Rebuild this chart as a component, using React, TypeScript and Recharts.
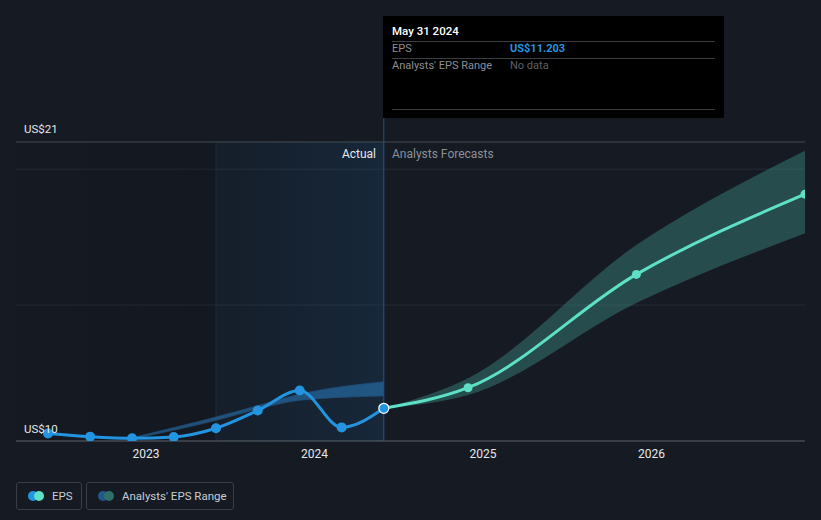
import React from "react";
import {
  ComposedChart,
  Line,
  Area,
  XAxis,
  YAxis,
  CartesianGrid,
  ReferenceArea,
  ReferenceLine,
} from "recharts";

// actual EPS (x = fractional year)
const actualX = [2022.418, 2022.668, 2022.917, 2023.164, 2023.415, 2023.663, 2023.912, 2024.161, 2024.411];
const actualEps = [10.28, 10.16, 10.1, 10.15, 10.47, 11.12, 11.86, 10.5, 11.203];

// analyst forecasts
const forecastX = [2024.411, 2024.911, 2025.91, 2026.911];
const forecastEps = [11.203, 11.96, 16.13, 19.08];
const forecastLow = [11.203, 11.69, 15.08, 17.64];
const forecastHigh = [11.203, 12.31, 17.21, 20.68];

// past analyst range
const pastRangeX = [2022.917, 2023.415, 2023.663, 2023.912, 2024.411];
const pastLow = [10.08, 10.76, 11.18, 11.5, 11.66];
const pastHigh = [10.12, 10.88, 11.3, 11.72, 12.18];

const yearTicks = [2023, 2024, 2025, 2026];
const yTicks = [10, 15, 20, 21];
const yLabels = ["US$21", "US$10"];

const xMin = 2022.228;
const xMax = 2026.911;
const todayX = 2024.411;
const shadeStart = 2023.415;

type Row = {
  x: number;
  eps?: number;
  forecast?: number;
  fRange?: [number, number];
  pRange?: [number, number];
};

const buildRows = (): Row[] => {
  const map = new Map<number, Row>();
  const get = (x: number) => {
    if (!map.has(x)) map.set(x, { x });
    return map.get(x)!;
  };
  actualX.forEach((x, i) => (get(x).eps = actualEps[i]));
  forecastX.forEach((x, i) => {
    const r = get(x);
    r.forecast = forecastEps[i];
    r.fRange = [forecastLow[i], forecastHigh[i]];
  });
  pastRangeX.forEach((x, i) => (get(x).pRange = [pastLow[i], pastHigh[i]]));
  return Array.from(map.values()).sort((a, b) => a.x - b.x);
};

const data = buildRows();

const BG = "#151a23";
const BLUE = "#2394df";
const TEAL = "#5ee0c6";
const FONT = "Roboto, 'Noto Sans', sans-serif";

const EpsDot = (props: any) => {
  const { cx, cy, index } = props;
  if (cx == null || cy == null || props.payload?.eps == null) return <g key={`d${index}`} />;
  const last = props.payload.x === todayX;
  return last ? (
    <circle key={`d${index}`} cx={cx} cy={cy} r={5} fill={BLUE} stroke="#fff" strokeWidth={1.2} />
  ) : (
    <circle key={`d${index}`} cx={cx} cy={cy} r={5} fill={BLUE} />
  );
};

const ForecastDot = (props: any) => {
  const { cx, cy, index } = props;
  if (cx == null || cy == null || props.payload?.forecast == null || props.payload.x === todayX)
    return <g key={`f${index}`} />;
  return <circle key={`f${index}`} cx={cx} cy={cy} r={4.5} fill={TEAL} />;
};

const legendBox: React.CSSProperties = {
  position: "absolute",
  top: 482,
  height: 28,
  border: "1px solid #393e47",
  borderRadius: 3,
  boxSizing: "border-box",
  display: "flex",
  alignItems: "center",
  fontSize: 11.5,
  color: "#c9cdd3",
  whiteSpace: "nowrap",
};

const Dots = ({ a, b }: { a: string; b: string }) => (
  <span style={{ position: "relative", width: 16, height: 10, marginLeft: 11, marginRight: 8 }}>
    <span style={{ position: "absolute", left: 0, top: 0, width: 10, height: 10, borderRadius: 5, background: a }} />
    <span style={{ position: "absolute", left: 6, top: 0, width: 10, height: 10, borderRadius: 5, background: b }} />
  </span>
);

const App: React.FC = () => {
  return (
    <div
      style={{
        position: "absolute",
        left: 0,
        top: 0,
        width: 821,
        height: 520,
        background: BG,
        fontFamily: FONT,
        overflow: "hidden",
      }}
    >
      <ComposedChart
        width={821}
        height={520}
        data={data}
        margin={{ top: 142, right: 16, bottom: 49, left: 16 }}
      >
        <defs>
          <linearGradient id="pastShade" x1="0" y1="0" x2="1" y2="0">
            <stop offset="0%" stopColor="#1b5d94" stopOpacity={0.12} />
            <stop offset="100%" stopColor="#1b5d94" stopOpacity={0.4} />
          </linearGradient>
          <linearGradient id="leftShade" x1="0" y1="0" x2="1" y2="0">
            <stop offset="0%" stopColor="#0c0e12" stopOpacity={0.1} />
            <stop offset="100%" stopColor="#0c0e12" stopOpacity={0.3} />
          </linearGradient>
        </defs>
        <ReferenceArea x1={xMin} x2={shadeStart} y1={10} y2={21} fill="url(#leftShade)" ifOverflow="hidden" />
        <ReferenceArea
          x1={shadeStart}
          x2={todayX}
          y1={10}
          y2={21}
          fill="url(#pastShade)"
          stroke="#1d3a55"
          strokeOpacity={0.6}
          ifOverflow="hidden"
        />
        <CartesianGrid vertical={false} stroke="#272c35" strokeWidth={1} />
        <ReferenceLine y={21} stroke="#3d424b" />
        <XAxis
          dataKey="x"
          type="number"
          domain={[xMin, xMax]}
          ticks={yearTicks}
          allowDataOverflow
          tickLine={false}
          axisLine={{ stroke: "#555a63" }}
          height={30}
          tick={{ fill: "#e6e8eb", fontSize: 12, fontFamily: FONT }}
          tickFormatter={(v) => String(Math.round(v))}
        />
        <YAxis type="number" domain={[10, 21]} ticks={yTicks} allowDataOverflow hide />
        <ReferenceLine
          segment={[
            { x: todayX, y: 10 },
            { x: todayX, y: 21.9 },
          ]}
          stroke="#1f5380"
          ifOverflow="visible"
        />
        <Area
          dataKey="pRange"
          type="monotone"
          stroke="#1f4f7a"
          strokeWidth={0.8}
          fill="#2b7cc0"
          fillOpacity={0.55}
          connectNulls
          isAnimationActive={false}
          activeDot={false}
        />
        <Area
          dataKey="fRange"
          type="monotone"
          stroke="none"
          fill="#3c8a80"
          fillOpacity={0.45}
          connectNulls
          isAnimationActive={false}
          activeDot={false}
        />
        <Line
          dataKey="forecast"
          type="monotone"
          stroke={TEAL}
          strokeWidth={3}
          dot={<ForecastDot />}
          connectNulls
          isAnimationActive={false}
          activeDot={false}
        />
        <Line
          dataKey="eps"
          type="monotone"
          stroke={BLUE}
          strokeWidth={3}
          dot={<EpsDot />}
          connectNulls
          isAnimationActive={false}
          activeDot={false}
        />
      </ComposedChart>

      <div style={{ position: "absolute", left: 24, top: 122, fontSize: 11.5, color: "#e6e8eb" }}>{yLabels[0]}</div>
      <div style={{ position: "absolute", left: 24, top: 422, fontSize: 11.5, color: "#e6e8eb" }}>{yLabels[1]}</div>

      <div
        style={{
          position: "absolute",
          left: 303,
          top: 147,
          width: 73,
          textAlign: "right",
          fontSize: 12,
          color: "#e6e8eb",
        }}
      >
        Actual
      </div>
      <div style={{ position: "absolute", left: 392, top: 147, fontSize: 12, color: "#8b9097" }}>
        Analysts Forecasts
      </div>

      <div
        style={{
          position: "absolute",
          left: 383,
          top: 16,
          width: 341,
          height: 102,
          background: "#000",
          fontSize: 11,
        }}
      >
        <div style={{ position: "absolute", left: 9, top: 8, color: "#fff", fontSize: 11.5, fontWeight: 500 }}>
          May 31 2024
        </div>
        <div style={{ position: "absolute", left: 9, right: 9, top: 25, borderTop: "1px solid #3a3d42" }} />
        <div style={{ position: "absolute", left: 9, top: 26, color: "#8a8f96" }}>EPS</div>
        <div style={{ position: "absolute", left: 127, top: 26, color: BLUE, fontWeight: 700 }}>US$11.203</div>
        <div style={{ position: "absolute", left: 9, right: 9, top: 42, borderTop: "1px solid #3a3d42" }} />
        <div style={{ position: "absolute", left: 9, top: 43, color: "#8a8f96" }}>Analysts' EPS Range</div>
        <div style={{ position: "absolute", left: 127, top: 43, color: "#5d6167" }}>No data</div>
        <div style={{ position: "absolute", left: 9, right: 9, top: 93, borderTop: "1px solid #3a3d42" }} />
      </div>

      <div style={{ ...legendBox, left: 16, width: 66 }}>
        <Dots a={BLUE} b={TEAL} />
        <span>EPS</span>
      </div>
      <div style={{ ...legendBox, left: 86, width: 148 }}>
        <Dots a="#215a8a" b="#2e6f69" />
        <span>Analysts' EPS Range</span>
      </div>
    </div>
  );
};

export default App;
